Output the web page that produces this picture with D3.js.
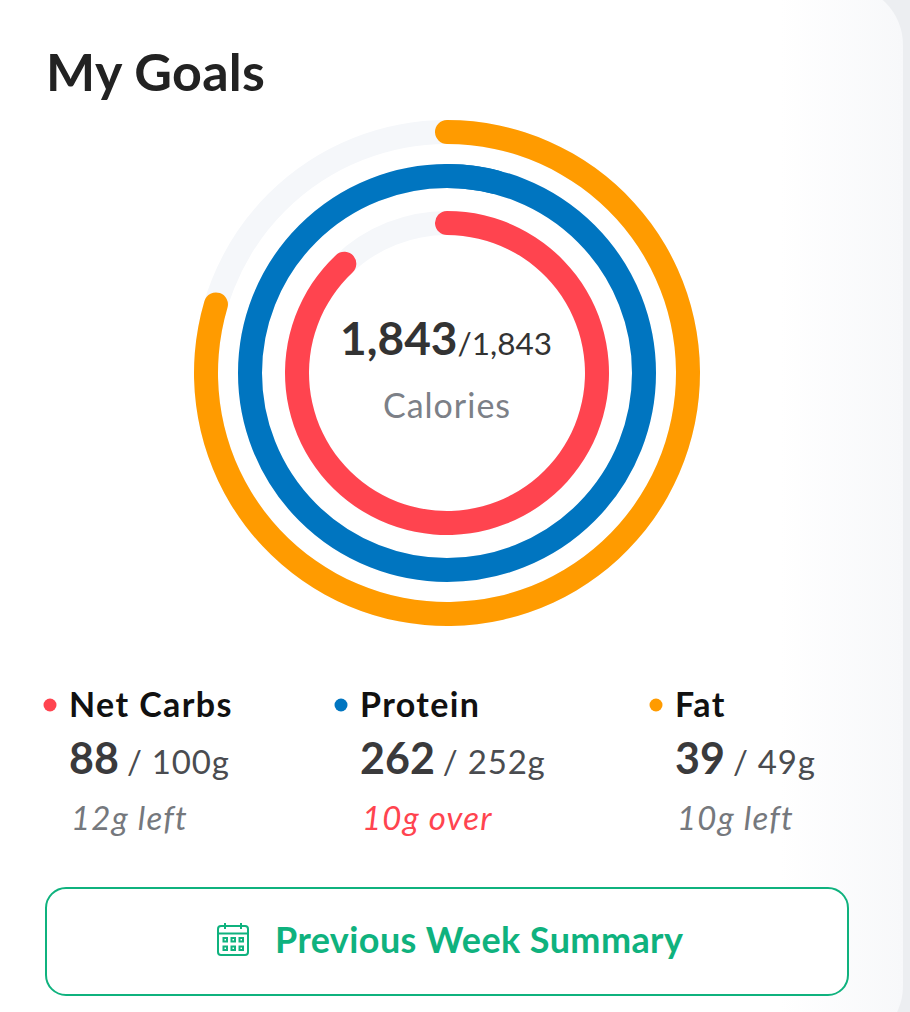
<!DOCTYPE html>
<html><head><meta charset="utf-8">
<script src="https://cdn.jsdelivr.net/npm/d3@7/dist/d3.min.js"></script>
<style>html,body{margin:0;padding:0;background:#fff;overflow:hidden}svg{display:block}text{font-family:Lato,"Noto Sans",sans-serif}</style>
</head><body><svg id="c" width="910" height="1012"></svg>
<script>
const categories=["Net Carbs","Protein","Fat"];
const consumed=[88,262,39];
const goals=[100,252,49];
const statusText=["12g left","10g over","10g left"];
const colors=["#ff444f","#0075c0","#ff9b00"];
const calories=1843, calorieGoal=1843;
const title="My Goals", centerLabel="Calories", buttonLabel="Previous Week Summary";
const fmt=d3.format(",");

const svg=d3.select("#c");
const defs=svg.append("defs");
const grad=defs.append("linearGradient").attr("id","edge").attr("gradientUnits","userSpaceOnUse").attr("x1",780).attr("x2",903).attr("y1",0).attr("y2",0);
grad.append("stop").attr("offset","0").attr("stop-color","#fff");
grad.append("stop").attr("offset","1").attr("stop-color","#f7f8fa");
const over=defs.append("linearGradient").attr("id","overlap").attr("gradientUnits","userSpaceOnUse").attr("x1",465).attr("x2",507).attr("y1",0).attr("y2",0);
over.append("stop").attr("offset","0").attr("stop-color","#0075c0");
over.append("stop").attr("offset","1").attr("stop-color","#06659f");

svg.append("rect").attr("width",910).attr("height",1012).attr("fill","#eceef1");
svg.append("rect").attr("x",-60).attr("y",-15).attr("width",963).attr("height",1061).attr("rx",60).attr("fill","url(#edge)");

svg.append("text").attr("x",46).attr("y",91).attr("font-size",52).attr("letter-spacing",0.3).attr("font-weight",700).attr("fill","#222").text(title);

const cx=447,cy=373,ringW=24;
const radii=[150,197,241];
const angle=d3.scaleLinear().domain([0,1]).range([0,2*Math.PI]);
const g=svg.append("g").attr("transform",`translate(${cx},${cy})`);
const arc=d3.arc().cornerRadius(ringW/2);
categories.forEach((c,i)=>{
  const r=radii[i], spec={innerRadius:r-ringW/2,outerRadius:r+ringW/2}, cap=(ringW/2)/r;
  g.append("circle").attr("r",r).attr("fill","none").attr("stroke","#f5f7fa").attr("stroke-width",ringW);
  const f=consumed[i]/goals[i];
  if(f<=1){
    g.append("path").attr("fill",colors[i]).attr("d",arc({...spec,startAngle:-cap,endAngle:angle(f)+cap}));
  }else{
    g.append("circle").attr("r",r).attr("fill","none").attr("stroke",colors[i]).attr("stroke-width",ringW);
    g.append("path").attr("fill","url(#overlap)").attr("d",arc({...spec,startAngle:-cap,endAngle:angle(f-1)+cap}));
  }
});

const cal=svg.append("text").attr("x",446).attr("y",355).attr("text-anchor","middle").attr("fill","#333");
cal.append("tspan").attr("font-size",46).attr("font-weight",700).text(fmt(calories));
cal.append("tspan").attr("font-size",31.5).attr("font-weight",400).text("/"+fmt(calorieGoal));
svg.append("text").attr("x",447).attr("y",418).attr("text-anchor","middle").attr("font-size",34).attr("letter-spacing",1).attr("fill","#7c8087").text(centerLabel);

const legendX=d3.scaleOrdinal().domain(categories).range([70,361,676]);
categories.forEach((c,i)=>{
  const x=legendX(c);
  svg.append("circle").attr("cx",x-20).attr("cy",705).attr("r",6.5).attr("fill",colors[i]);
  svg.append("text").attr("x",x-1).attr("y",717).attr("font-size",34).attr("letter-spacing",1.4).attr("font-weight",700).attr("fill","#111").text(c);
  const t=svg.append("text").attr("x",x-1).attr("y",774).attr("fill","#3a3a3c");
  t.append("tspan").attr("font-size",43).attr("font-weight",700).text(consumed[i]);
  t.append("tspan").attr("font-size",33).attr("dx",8).attr("letter-spacing",0.8).attr("fill","#4a4c50").text("/ "+goals[i]+"g");
  const isOver=consumed[i]>goals[i];
  svg.append("text").attr("x",x+1).attr("y",830).attr("font-size",33).attr("letter-spacing",1.2).attr("font-style","italic").attr("fill",isOver?"#ff444f":"#75787d").text(statusText[i]);
});

svg.append("rect").attr("x",46).attr("y",888).attr("width",802).attr("height",107).attr("rx",20).attr("fill","#fff").attr("stroke","#0fb27e").attr("stroke-width",2);
const ic=svg.append("g").attr("transform","translate(218,926)").attr("fill","none").attr("stroke","#0fb27e").attr("stroke-width",2);
ic.append("rect").attr("x",0).attr("y",0).attr("width",30).attr("height",29).attr("rx",3);
ic.append("path").attr("d","M0 7.5H30M7 -3V3M23 -3V3");
[0,1].forEach(r=>[0,1,2].forEach(k=>ic.append("rect").attr("x",5.5+k*8).attr("y",12+r*8.5).attr("width",3.5).attr("height",3.5)));
svg.append("text").attr("x",275).attr("y",953).attr("font-size",36).attr("letter-spacing",0.4).attr("font-weight",700).attr("fill","#0fb27e").text(buttonLabel);
</script></body></html>
